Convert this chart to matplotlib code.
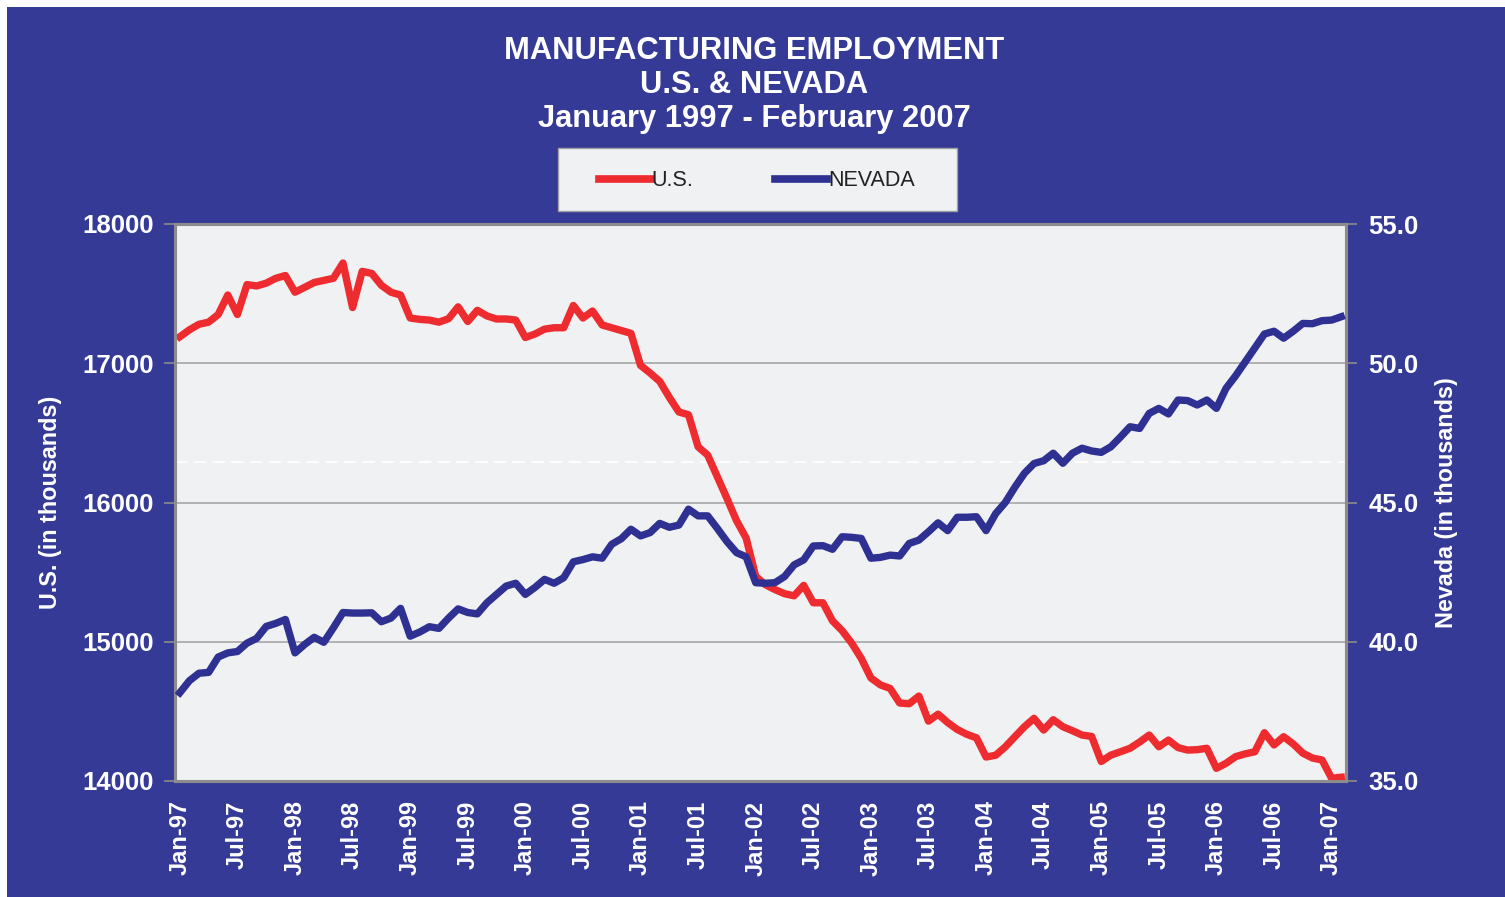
import numpy as np
import pandas as pd
import matplotlib
matplotlib.use("Agg")
import matplotlib.pyplot as plt
from matplotlib.patches import Rectangle
from matplotlib.lines import Line2D

plt.rcParams['font.family'] = ['Liberation Sans', 'DejaVu Sans']

# monthly categories, Jan 1997 - Feb 2007
months = pd.date_range('1997-01-01', periods=122, freq='MS')
month_labels = [d.strftime('%b-%y') for d in months]

# U.S. manufacturing employment (thousands)
us = [
    17190, 17240, 17280, 17295, 17350, 17490, 17350, 17565, 17555, 17575, 17610, 17630,
    17510, 17545, 17580, 17595, 17610, 17720, 17400, 17660, 17645, 17560, 17510, 17490,
    17325, 17315, 17310, 17295, 17320, 17405, 17300, 17380, 17340, 17318, 17318, 17310,
    17185, 17210, 17245, 17255, 17255, 17415, 17325, 17375, 17275, 17255, 17235, 17215,
    16985, 16930, 16870, 16755, 16650, 16630, 16400, 16340, 16185, 16030, 15870, 15745,
    15470, 15410, 15375, 15345, 15330, 15405, 15280, 15280, 15150, 15080, 14990, 14880,
    14740, 14690, 14665, 14560, 14555, 14610, 14430, 14480, 14420, 14370, 14335, 14310,
    14172, 14185, 14245, 14318, 14390, 14450, 14366, 14440, 14390, 14361, 14330, 14320,
    14140, 14186, 14210, 14235, 14280, 14330, 14246, 14294, 14240, 14222, 14225, 14235,
    14091, 14127, 14175, 14195, 14210, 14347, 14259, 14318, 14266, 14200, 14165, 14151,
    14020, 14027,
]

# Nevada manufacturing employment (thousands)
nevada = [
    38.17, 38.60, 38.87, 38.90, 39.45, 39.60, 39.65, 39.95, 40.12, 40.55, 40.66, 40.80,
    39.60, 39.90, 40.16, 39.98, 40.50, 41.05, 41.03, 41.03, 41.04, 40.72, 40.85, 41.20,
    40.20, 40.35, 40.54, 40.48, 40.85, 41.18, 41.05, 41.00, 41.40, 41.70, 42.00, 42.10,
    41.70, 41.95, 42.24, 42.10, 42.30, 42.87, 42.95, 43.05, 43.00, 43.50, 43.70, 44.04,
    43.80, 43.92, 44.25, 44.11, 44.19, 44.76, 44.52, 44.52, 44.07, 43.60, 43.20, 43.05,
    42.12, 42.10, 42.12, 42.34, 42.76, 42.94, 43.44, 43.45, 43.32, 43.77, 43.75, 43.71,
    43.00, 43.03, 43.11, 43.08, 43.53, 43.65, 43.95, 44.27, 43.99, 44.47, 44.47, 44.49,
    43.99, 44.60, 45.00, 45.55, 46.05, 46.40, 46.50, 46.77, 46.41, 46.77, 46.95, 46.85,
    46.80, 47.00, 47.35, 47.72, 47.66, 48.20, 48.38, 48.18, 48.68, 48.66, 48.50, 48.68,
    48.38, 49.10, 49.55, 50.05, 50.55, 51.05, 51.15, 50.90, 51.15, 51.43, 51.42, 51.53,
    51.55, 51.67,
]

bg_blue = '#353A96'
red = '#EE2B2F'
navy = '#2E3192'
plot_bg = '#F0F1F3'

fig = plt.figure(figsize=(15.05, 8.97), dpi=100)
fig.patch.set_facecolor('white')
fig.patches.append(Rectangle((7 / 1505, 0), 1 - 7 / 1505, 1 - 7 / 897,
                             transform=fig.transFigure, facecolor=bg_blue,
                             edgecolor='none', zorder=-10))

ax = fig.add_axes([175 / 1505, 1 - 781 / 897, 1171 / 1505, 557 / 897])
ax.set_facecolor(plot_bg)
x = np.arange(len(us))

for v in [15000, 16000, 17000]:
    ax.axhline(v, color='#A6A6A6', lw=1.2, zorder=1)
ax.axhline(16290, color='white', lw=1.5, ls=(0, (6, 3)), alpha=0.9, zorder=1)

ax.plot(x, us, color=red, lw=5.3, solid_joinstyle='round', zorder=3)
ax.set_ylim(14000, 18000)
ax.set_xlim(-0.5, len(us) - 0.5)
ax.set_yticks([14000, 15000, 16000, 17000, 18000])

ax2 = ax.twinx()
ax2.plot(x, nevada, color=navy, lw=5.3, solid_joinstyle='round', zorder=3)
ax2.set_ylim(35, 55)
ax2.set_yticks([35, 40, 45, 50, 55])
ax2.set_yticklabels([f'{v:.1f}' for v in [35, 40, 45, 50, 55]])

ax.set_xticks(x[::6])
ax.set_xticklabels(month_labels[::6], rotation=90, fontsize=17,
                   fontweight='bold', color='white')
ax.tick_params(axis='x', length=0, pad=14)
ax.tick_params(axis='y', direction='out', length=8, width=1.2, color='#8C8C8C',
               labelsize=18.5, labelcolor='white', pad=7)
ax2.tick_params(axis='y', direction='out', length=8, width=1.2, color='#8C8C8C',
                labelsize=18.5, labelcolor='white', pad=8)
for lab in ax.get_yticklabels() + ax2.get_yticklabels():
    lab.set_fontweight('bold')

for a in (ax, ax2):
    for s in a.spines.values():
        s.set_color('#8C8C8C')
        s.set_linewidth(2.2)

ax.set_ylabel('U.S. (in thousands)', fontsize=16.8, fontweight='bold', color='white')
ax.yaxis.set_label_coords(-0.0965, 0.5)
ax2.set_ylabel('Nevada (in thousands)', fontsize=16.8, fontweight='bold', color='white')
ax2.yaxis.set_label_coords(1.076, 0.5)

title_lines = ['MANUFACTURING EMPLOYMENT', 'U.S. & NEVADA', 'January 1997 - February 2007']
for yy, line in zip([50, 84, 118], title_lines):
    fig.text(754 / 1505, 1 - (yy + 1) / 897, line, ha='center', va='center',
             fontsize=22.2, fontweight='bold', color='white')

# legend box
fig.patches.append(Rectangle((558 / 1505, 1 - 211 / 897), 399 / 1505, 63 / 897,
                             transform=fig.transFigure, facecolor=plot_bg,
                             edgecolor='#A0A0A0', lw=1, zorder=-5))
handles = [Line2D([], [], color=red, lw=5.5), Line2D([], [], color=navy, lw=5.5)]
fig.legend(handles, ['U.S.', 'NEVADA'], loc='center', ncol=2, frameon=False,
           bbox_to_anchor=(757 / 1505, 1 - 181 / 897), fontsize=15.5,
           handlelength=2.4, handletextpad=0.05, columnspacing=3.8,
           labelcolor='#222222')

fig.savefig('out.png', dpi=100, facecolor=fig.get_facecolor())
